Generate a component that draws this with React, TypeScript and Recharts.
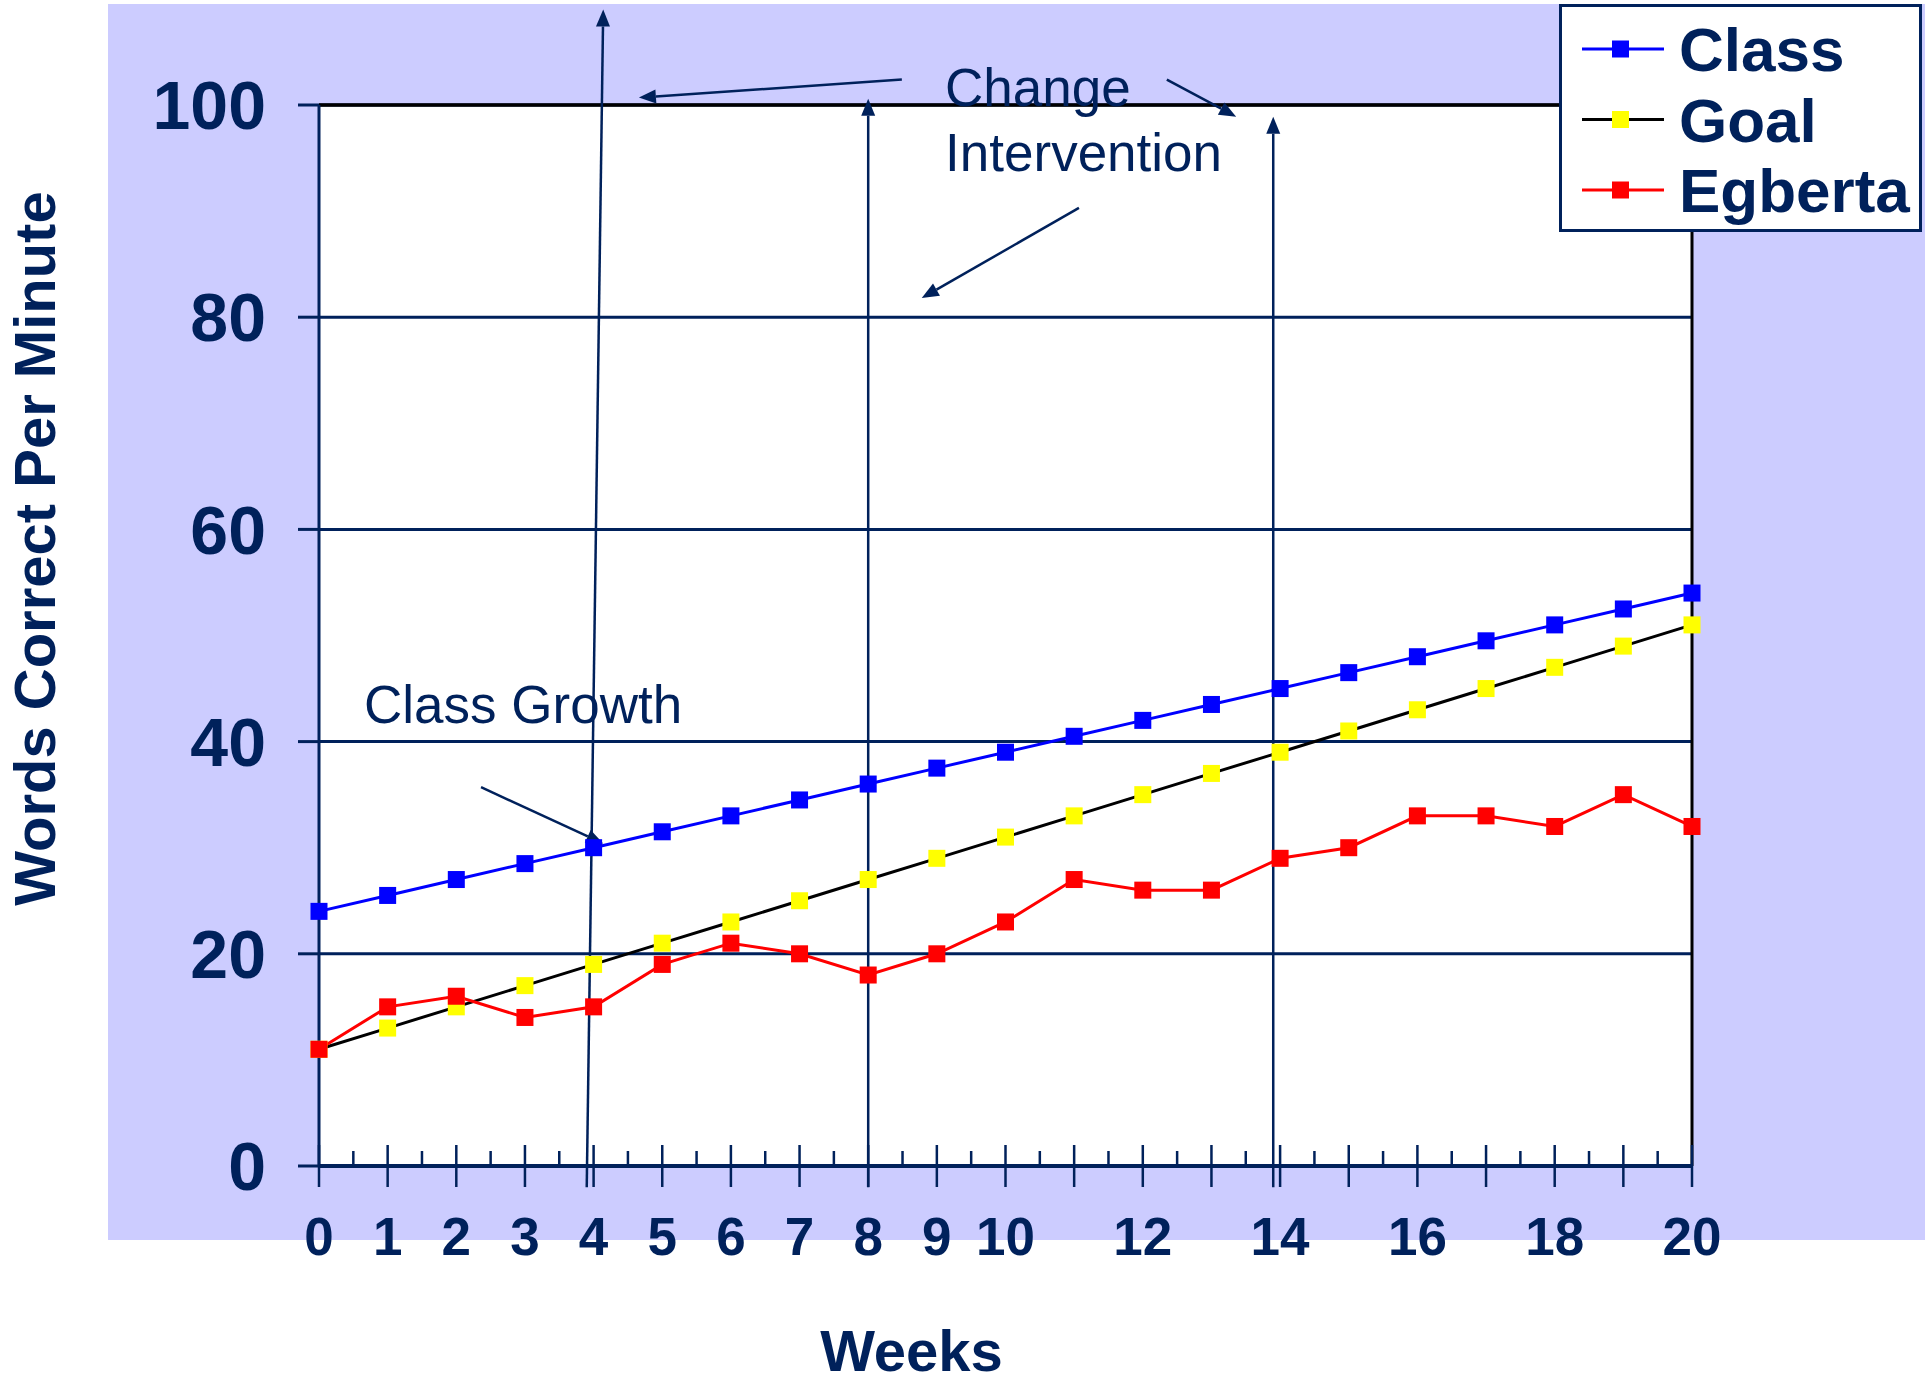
import { LineChart, Line, XAxis, YAxis, CartesianGrid, ReferenceLine, ReferenceDot, Legend } from "recharts"

document.body.style.margin = "0"

const weeks = [0, 1, 2, 3, 4, 5, 6, 7, 8, 9, 10, 11, 12, 13, 14, 15, 16, 17, 18, 19, 20]
const classWcpm = [24, 25.5, 27, 28.5, 30, 31.5, 33, 34.5, 36, 37.5, 39, 40.5, 42, 43.5, 45, 46.5, 48, 49.5, 51, 52.5, 54]
const goalWcpm = [11, 13, 15, 17, 19, 21, 23, 25, 27, 29, 31, 33, 35, 37, 39, 41, 43, 45, 47, 49, 51]
const egbertaWcpm = [11, 15, 16, 14, 15, 19, 21, 20, 18, 20, 23, 27, 26, 26, 29, 30, 33, 33, 32, 35, 32]

const weekLabels = [0, 1, 2, 3, 4, 5, 6, 7, 8, 9, 10, 12, 14, 16, 18, 20]
const yTicks = [0, 20, 40, 60, 80, 100]

// annotation arrows, in week / wcpm units
const arrows = [
  { from: [3.9, -2], to: [4.14, 109] },
  { from: [8, -2], to: [8, 100.6] },
  { from: [13.9, -2], to: [13.9, 98.9] },
  { from: [8.49, 102.4], to: [4.66, 100.7] },
  { from: [12.35, 102.4], to: [13.36, 98.9] },
  { from: [11.07, 90.3], to: [8.78, 81.8] },
  { from: [2.36, 35.7], to: [4.14, 30.4] },
]

const notes = [
  { text: "Change", at: [9.12, 99.9] },
  { text: "Intervention", at: [9.12, 93.8] },
  { text: "Class Growth", at: [0.656, 41.75] },
]

const series = [
  { key: "goal", name: "Goal", line: "#000000", marker: "#FFFF00", width: 3 },
  { key: "egberta", name: "Egberta", line: "#FF0000", marker: "#FF0000", width: 3 },
  { key: "cls", name: "Class", line: "#0000FF", marker: "#0000FF", width: 3 },
]
const legendOrder = ["cls", "goal", "egberta"]

const data = weeks.map((w, i) => ({ week: w, cls: classWcpm[i], goal: goalWcpm[i], egberta: egbertaWcpm[i] }))
const xTicks = weeks.flatMap((w) => (w < 20 ? [w, w + 0.5] : [w]))

const NAVY = "#00215B"
const FONT = "'Liberation Sans', Arial, sans-serif"

const square = (fill: string) => (p: any) => {
  if (p.cx == null || p.cy == null) return <g key={p.key} />
  return <rect key={p.key} x={p.cx - 8.5} y={p.cy - 8.5} width={17} height={17} fill={fill} />
}

function WeekTick(props: any) {
  const { x, y, payload } = props
  const v = payload.value as number
  if (!Number.isInteger(v)) {
    return <line x1={x} x2={x} y1={y - 15} y2={y} stroke={NAVY} strokeWidth={2.5} />
  }
  return (
    <g>
      <line x1={x} x2={x} y1={y - 21} y2={y + 21} stroke={NAVY} strokeWidth={2.5} />
      {weekLabels.includes(v) && (
        <text x={x} y={y + 89} textAnchor="middle" fill={NAVY} fontSize={53} fontWeight={700} fontFamily={FONT}>
          {v}
        </text>
      )}
    </g>
  )
}

function ArrowShape(p: any) {
  const { x1, y1, x2, y2 } = p
  const ang = Math.atan2(y2 - y1, x2 - x1)
  const len = 17
  const hw = 7
  const bx = x2 - len * Math.cos(ang)
  const by = y2 - len * Math.sin(ang)
  const px = -Math.sin(ang) * hw
  const py = Math.cos(ang) * hw
  return (
    <g>
      <line x1={x1} y1={y1} x2={bx} y2={by} stroke={NAVY} strokeWidth={2.5} />
      <polygon points={`${x2},${y2} ${bx + px},${by + py} ${bx - px},${by - py}`} fill={NAVY} />
    </g>
  )
}

function LegendBox() {
  return (
    <svg width={363} height={228} style={{ display: "block" }}>
      <rect x={1.5} y={1.5} width={360} height={225} fill="#fff" stroke={NAVY} strokeWidth={3} />
      {legendOrder.map((k, i) => {
        const s = series.find((x) => x.key === k)!
        const cy = 45 + i * 70.5
        return (
          <g key={k}>
            <line x1={23} x2={105} y1={cy} y2={cy} stroke={s.line} strokeWidth={3} />
            <rect x={53} y={cy - 8.5} width={17} height={17} fill={s.marker} />
            <text x={120} y={cy + 22} fill={NAVY} fontSize={62} fontWeight={700} fontFamily={FONT}>
              {s.name}
            </text>
          </g>
        )
      })}
    </svg>
  )
}

export default function App() {
  return (
    <div style={{ position: "relative", width: 1931, height: 1387, background: "#fff", overflow: "hidden" }}>
      <div style={{ position: "absolute", left: 108, top: 4, width: 1817, height: 1236, background: "#CCCCFF" }} />
      <div style={{ position: "absolute", left: 0, top: 0 }}>
        <LineChart width={1931} height={1387} data={data} margin={{ top: 105, right: 239, bottom: 71, left: 119 }}>
          <CartesianGrid vertical={false} stroke={NAVY} strokeWidth={3} fill="#ffffff" fillOpacity={1} />
          <XAxis
            type="number"
            dataKey="week"
            domain={[0, 20]}
            ticks={xTicks}
            interval={0}
            height={150}
            tickSize={0}
            tickMargin={0}
            tickLine={false}
            axisLine={{ stroke: NAVY, strokeWidth: 4 }}
            tick={<WeekTick />}
            label={{
              content: (p: any) => {
                const vb = p.viewBox
                return (
                  <text x={vb.x + vb.width / 2 - 94} y={vb.y + 205} textAnchor="middle" fill={NAVY} fontSize={58} fontWeight={700} fontFamily={FONT}>
                    Weeks
                  </text>
                )
              },
            }}
          />
          <YAxis
            type="number"
            domain={[0, 100]}
            ticks={yTicks}
            width={200}
            tickSize={21}
            tickMargin={32}
            tickLine={{ stroke: NAVY, strokeWidth: 3 }}
            axisLine={{ stroke: NAVY, strokeWidth: 3 }}
            tick={{ fill: NAVY, fontSize: 68, fontWeight: 700, fontFamily: FONT }}
            label={{
              content: (p: any) => {
                const vb = p.viewBox
                const cx = vb.x - 85
                const cy = vb.y + vb.height / 2 - 87
                return (
                  <text x={cx} y={cy} transform={`rotate(-90 ${cx} ${cy})`} textAnchor="middle" dominantBaseline="central" fill={NAVY} fontSize={58} fontWeight={700} fontFamily={FONT}>
                    Words Correct Per Minute
                  </text>
                )
              },
            }}
          />
          <ReferenceLine y={100} stroke="#000" strokeWidth={3.5} />
          <ReferenceLine x={20} stroke="#000" strokeWidth={3} />
          {series.map((s) => (
            <Line
              key={s.key}
              type="linear"
              dataKey={s.key}
              name={s.name}
              stroke={s.line}
              strokeWidth={s.width}
              dot={square(s.marker)}
              activeDot={false}
              isAnimationActive={false}
            />
          ))}
          {arrows.map((a, i) => (
            <ReferenceLine
              key={`a${i}`}
              segment={[
                { x: a.from[0], y: a.from[1] },
                { x: a.to[0], y: a.to[1] },
              ]}
              ifOverflow="visible"
              shape={ArrowShape}
            />
          ))}
          {notes.map((n) => (
            <ReferenceDot
              key={n.text}
              x={n.at[0]}
              y={n.at[1]}
              ifOverflow="visible"
              shape={(p: any) => (
                <text x={p.cx} y={p.cy} fill={NAVY} fontSize={53} fontFamily={FONT}>
                  {n.text}
                </text>
              )}
            />
          ))}
          <Legend
            layout="horizontal"
            verticalAlign="middle"
            align="center"
            content={() => <LegendBox />}
            wrapperStyle={{ left: 1559, top: 4, width: 363, height: 228 }}
          />
        </LineChart>
      </div>
    </div>
  )
}
